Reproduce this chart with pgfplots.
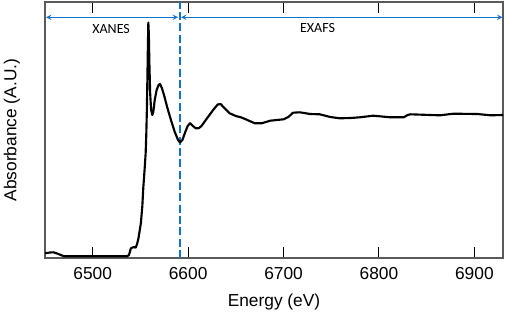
\documentclass[border=0pt]{standalone}
\usepackage{pgfplots}
\pgfplotsset{compat=1.18}
\usepackage{fontspec}
\setmainfont{Liberation Sans}
\newfontfamily\calib{Carlito}
\definecolor{xblue}{RGB}{20,115,205}
\definecolor{framegray}{RGB}{90,90,90}
\begin{document}
\begin{tikzpicture}
\begin{axis}[
  scale only axis, width=343.5pt, height=192pt,
  xmin=6450, xmax=6930, ymin=0, ymax=256,
  xtick={6500,6600,6700,6800,6900},
  ytick=\empty,
  tick align=inside, xtick pos=both,
  major tick length=8pt,
  tick style={black, line width=0.8pt},
  axis line style={framegray, line width=1.1pt},
  /pgf/number format/assume math mode=true,
  /pgf/number format/1000 sep={},
  xticklabel style={font=\fontsize{13}{15}\selectfont, yshift=-3.5pt},
  xlabel={Energy (eV)},
  ylabel={Absorbance (A.U.)},
  every axis x label/.style={at={(rel axis cs:0.5,0)}, anchor=center, yshift=-33pt, font=\fontsize{13}{15}\selectfont},
  every axis y label/.style={at={(rel axis cs:0,0.5)}, anchor=center, xshift=-24.75pt, rotate=90, font=\fontsize{13}{15}\selectfont},
  clip=false,
]
\coordinate (bl0) at (rel axis cs:0,0);
\coordinate (tr0) at (rel axis cs:1,1);
\addplot[draw=xblue, line width=1.5pt, dash pattern=on 6pt off 2.5pt, forget plot] coordinates {(6591,0) (6591,256)};
\addplot[draw=black, line width=1.6pt, line join=round] coordinates {
(6450,4.7) (6455,5.5) (6459,5.7) (6464,4) (6470,1.7) (6500,1.7) (6536,1.7) (6538,3)
(6540,9.7) (6543,11) (6545,10.3) (6546.5,14) (6548,20) (6550.5,35) (6552,52)
(6553,70) (6554.5,90) (6555.5,105) (6556.2,125) (6556.8,150) (6557.4,185) (6557.8,210) (6558.3,235.5)
(6558.8,225) (6559.4,195) (6560.2,165) (6561.2,148) (6562.5,143) (6563.5,146) (6565,158)
(6567,168) (6569,173) (6570.5,174) (6572.5,170) (6575,162) (6578,151) (6582,138)
(6586,126) (6589.5,118) (6591.5,115.5) (6594,118) (6597,126) (6599.5,132) (6602,134.7)
(6605,132) (6608,129.7) (6611,129.7) (6614,132) (6620,140) (6627,149) (6631,153.5) (6634,154)
(6638,150) (6643.5,144.7) (6650,142) (6656,140.5) (6662,138) (6670,134.7) (6677,134.7)
(6686,137.3) (6700,138.7) (6705,141) (6710,145.3) (6717,145.7) (6728,144) (6738,143.7)
(6749,141) (6759,139.7) (6770,140) (6780,140.7) (6794,142.3) (6812,140.7) (6826,140.7)
(6830,143) (6833,143.7) (6854,143) (6864,142.7) (6878,144.3) (6903,144) (6917,142.7) (6930,143)
};
\draw[xblue, line width=0.8pt, <->, >=stealth] (axis cs:6451,240.7) -- (axis cs:6589.5,240.7);
\draw[xblue, line width=0.8pt, <->, >=stealth] (axis cs:6592.5,240.7) -- (axis cs:6929.5,240.7);
\node[font=\calib\fontsize{10.5}{12}\selectfont] at (axis cs:6519.3,229) {XANES};
\node[font=\calib\fontsize{10.5}{12}\selectfont] at (axis cs:6735.6,230) {EXAFS};
\end{axis}
\pgfresetboundingbox
\path[use as bounding box] ([shift={(-33.75pt,-42.75pt)}]bl0) rectangle ([shift={(1.5pt,1.5pt)}]tr0);
\end{tikzpicture}
\end{document}
